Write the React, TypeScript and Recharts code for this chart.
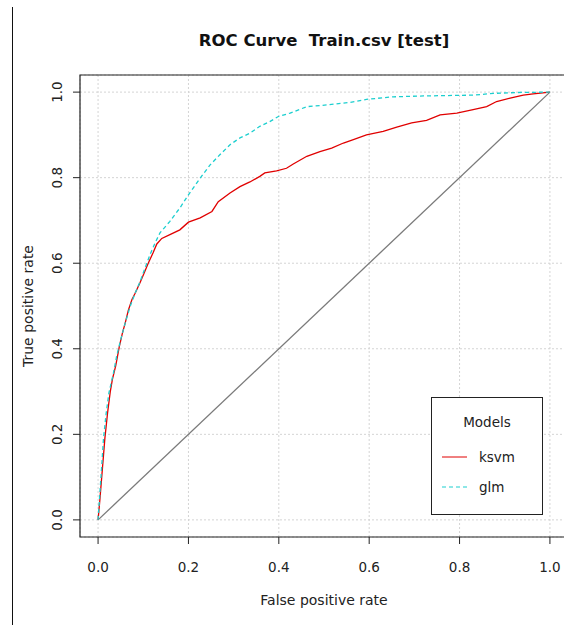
import { LineChart, Line, XAxis, YAxis, CartesianGrid, ReferenceArea } from "recharts";

// ROC points (false positive rate, true positive rate)
const ksvmFpr = [0, 0.004, 0.01, 0.015, 0.021, 0.027, 0.032, 0.039, 0.047, 0.054, 0.06, 0.067, 0.075, 0.082, 0.093, 0.102, 0.111, 0.122, 0.13, 0.141, 0.159, 0.181, 0.2, 0.226, 0.252, 0.266, 0.292, 0.314, 0.336, 0.358, 0.369, 0.395, 0.417, 0.432, 0.462, 0.491, 0.517, 0.543, 0.565, 0.594, 0.631, 0.661, 0.694, 0.727, 0.757, 0.794, 0.83, 0.86, 0.882, 0.912, 0.941, 0.963, 1];
const ksvmTpr = [0, 0.047, 0.125, 0.19, 0.25, 0.3, 0.33, 0.36, 0.405, 0.437, 0.46, 0.49, 0.515, 0.53, 0.555, 0.577, 0.6, 0.625, 0.645, 0.658, 0.667, 0.678, 0.696, 0.706, 0.721, 0.744, 0.764, 0.779, 0.79, 0.803, 0.811, 0.816, 0.822, 0.832, 0.85, 0.861, 0.869, 0.881, 0.889, 0.9, 0.908, 0.918, 0.928, 0.934, 0.947, 0.951, 0.959, 0.966, 0.978, 0.986, 0.993, 0.996, 1];

const glmFpr = [0, 0.004, 0.008, 0.012, 0.018, 0.024, 0.034, 0.041, 0.05, 0.06, 0.071, 0.082, 0.093, 0.104, 0.115, 0.126, 0.137, 0.159, 0.181, 0.2, 0.226, 0.248, 0.27, 0.292, 0.314, 0.336, 0.358, 0.38, 0.399, 0.425, 0.462, 0.506, 0.558, 0.594, 0.653, 0.72, 0.83, 0.875, 0.926, 1];
const glmTpr = [0, 0.063, 0.125, 0.19, 0.25, 0.297, 0.343, 0.382, 0.421, 0.46, 0.499, 0.53, 0.557, 0.589, 0.62, 0.647, 0.671, 0.698, 0.729, 0.76, 0.799, 0.83, 0.854, 0.877, 0.893, 0.904, 0.92, 0.931, 0.943, 0.951, 0.966, 0.97, 0.976, 0.983, 0.989, 0.991, 0.993, 0.997, 0.999, 1];

const chanceFpr = [0, 1];
const chanceTpr = [0, 1];

const TICKS = [0, 0.2, 0.4, 0.6, 0.8, 1];
const MODELS = ["ksvm", "glm"];
const COLORS = ["#e00000", "#1ccfcf"];
const FONT = "'DejaVu Sans', Verdana, sans-serif";

const toRows = (xs: number[], ys: number[]) => xs.map((x, i) => ({ fpr: x, tpr: ys[i] }));
const ksvmData = toRows(ksvmFpr, ksvmTpr);
const glmData = toRows(glmFpr, glmTpr);
const chanceData = toRows(chanceFpr, chanceTpr);

const XTick = ({ x, y, payload }: any) => (
  <text x={x} y={y + 23} textAnchor="middle" dominantBaseline="central" fontSize={13.5} fill="#222" fontFamily={FONT}>
    {payload.value.toFixed(1)}
  </text>
);

const YTick = ({ x, y, payload }: any) => (
  <text x={x - 16} y={y} transform={`rotate(-90, ${x - 16}, ${y})`} textAnchor="middle" dominantBaseline="central"
    fontSize={13.5} fill="#222" fontFamily={FONT}>
    {payload.value.toFixed(1)}
  </text>
);

const YTitle = ({ viewBox }: any) => {
  const cx = 28;
  const cy = viewBox.y + viewBox.height / 2;
  return (
    <text x={cx} y={cy} transform={`rotate(-90, ${cx}, ${cy})`} textAnchor="middle" dominantBaseline="central"
      fontSize={14} fill="#222" fontFamily={FONT}>
      True positive rate
    </text>
  );
};

function LegendBox() {
  return (
    <svg width={113} height={119} style={{ position: "absolute", left: 431, top: 397 }}>
      <rect x={0.5} y={0.5} width={111} height={117} fill="#fff" stroke="#222" />
      <text x={56} y={25} textAnchor="middle" dominantBaseline="central" fontSize={13.5} fill="#222" fontFamily={FONT}>Models</text>
      {MODELS.map((m, i) => (
        <g key={m}>
          <line x1={11} x2={36} y1={60 + i * 30} y2={60 + i * 30} stroke={COLORS[i]} strokeWidth={1}
            strokeDasharray={i === 1 ? "4 3" : undefined} />
          <text x={48} y={60 + i * 30} dominantBaseline="central" fontSize={13.5} fill="#222" fontFamily={FONT}>{m}</text>
        </g>
      ))}
    </svg>
  );
}

export default function App() {
  return (
    <div style={{ position: "absolute", left: 0, top: 0, width: 564, height: 625, overflow: "hidden", background: "#fff", fontFamily: FONT }}>
      <div style={{ position: "absolute", left: 12, top: 7, width: 1, height: 618, background: "#111" }} />
      <div style={{ position: "absolute", left: 0, width: 648, top: 31, textAlign: "center", fontWeight: "bold", fontSize: 16.5, color: "#111" }}>
        ROC Curve&nbsp;&nbsp;Train.csv [test]
      </div>
      <LineChart width={580} height={625} margin={{ top: 75, right: 12, bottom: 0, left: 0 }}>
        <CartesianGrid stroke="#d4d4d4" strokeDasharray="2 2" />
        <XAxis dataKey="fpr" type="number" domain={[-0.04, 1.04]} ticks={TICKS} height={88} axisLine={false}
          tickSize={7} tickMargin={0} tickLine={{ stroke: "#222" }} tick={<XTick />}
          label={{ value: "False positive rate", position: "insideBottom", offset: 20, fontSize: 14, fill: "#222", fontFamily: FONT }} />
        <YAxis type="number" domain={[-0.04, 1.04]} ticks={TICKS} width={80} axisLine={false}
          tickSize={7} tickMargin={0} tickLine={{ stroke: "#222" }} tick={<YTick />} label={<YTitle />} />
        <ReferenceArea x1={-0.04} x2={1.04} y1={-0.04} y2={1.04} fill="none" fillOpacity={0} stroke="#222" strokeWidth={1.2} ifOverflow="visible" />
        <Line data={chanceData} dataKey="tpr" stroke="#7a7a7a" strokeWidth={1.3} dot={false} isAnimationActive={false} />
        <Line data={ksvmData} dataKey="tpr" name={MODELS[0]} stroke={COLORS[0]} strokeWidth={1.3} dot={false} isAnimationActive={false} />
        <Line data={glmData} dataKey="tpr" name={MODELS[1]} stroke={COLORS[1]} strokeWidth={1.3} strokeDasharray="4 3" dot={false} isAnimationActive={false} />
      </LineChart>
      <LegendBox />
    </div>
  );
}
